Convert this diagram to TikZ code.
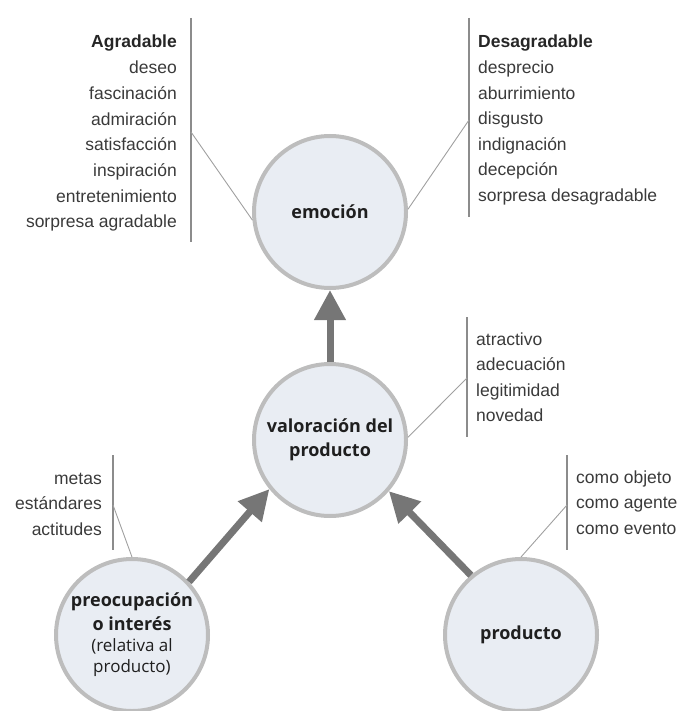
\documentclass[tikz,border=0pt]{standalone}
\usepackage{fontspec}
\setmainfont{Liberation Sans}
\newfontfamily\circfont{Open Sans}
\newcommand\notefont{\mdseries\fontsize{17}{21}\selectfont}
\usetikzlibrary{arrows.meta}

\definecolor{ringgray}{HTML}{BDBDBD}
\definecolor{ringfill}{HTML}{E9EDF3}
\definecolor{listtext}{HTML}{3A3A3A}
\definecolor{rulegray}{HTML}{8C8C8C}
\definecolor{leadgray}{HTML}{A0A0A0}
\definecolor{flowgray}{HTML}{767676}

\tikzset{
  bubble/.style={circle, draw=ringgray, fill=ringfill, line width=4pt,
    minimum size=152pt, inner sep=0pt, align=center, text=black!88,
    font=\circfont\fontsize{18}{24}\selectfont\bfseries},
  itemR/.style={anchor=base east, inner sep=0pt, text=listtext,
    font=\fontsize{17.5}{21}\selectfont},
  itemL/.style={anchor=base west, inner sep=0pt, text=listtext,
    font=\fontsize{17.5}{21}\selectfont},
  listrule/.style={draw=rulegray, line width=1.3pt},
  leader/.style={draw=leadgray, line width=0.9pt},
  flow/.style={draw=flowgray, line width=7pt,
    -{Triangle[width=30pt,length=30pt]}}
}

\begin{document}
\begin{tikzpicture}[x=1pt, y=-1pt]
\useasboundingbox (0,0) rectangle (678,711);

% the four concepts
\node[bubble] (emo)  at (330,212) {emoción};
\node[bubble] (val)  at (330,440) {valoración del\\producto};
\node[bubble] (pre)  at (132,635) {preocupación\\o interés\\[-3pt]{\notefont(relativa al}\\[-3pt]{\notefont producto)}};
\node[bubble] (prod) at (521,635) {producto};

% flow between the concepts
\draw[flow] (val.north) -- (emo.south);
\draw[flow] (pre.43) -- (val.219);
\draw[flow] (prod.130) -- (val.319);

% pleasant emotions
\node[itemR, font=\fontsize{17.5}{21}\selectfont\bfseries, text=black!85] (ag0) at (177,48) {Agradable};
\foreach \t [count=\i] in {deseo, fascinación, admiración, satisfacción,
    inspiración, entretenimiento, sorpresa agradable}
  \node[itemR] (ag\i) at (177,48+25.7*\i) {\t};
\coordinate (agTop) at (191,18);
\coordinate (agBot) at (191,242);
\coordinate (agTap) at (191,132);
\draw[listrule] (agTop) -- (agBot);
\draw[leader] (agTap) -- (emo.186);

% unpleasant emotions
\node[itemL, font=\fontsize{17.5}{21}\selectfont\bfseries, text=black!85] (de0) at (478,48) {Desagradable};
\foreach \t [count=\i] in {desprecio, aburrimiento, disgusto, indignación,
    decepción, sorpresa desagradable}
  \node[itemL] (de\i) at (478,48+25.55*\i) {\t};
\coordinate (deTop) at (469,18);
\coordinate (deBot) at (469,217);
\coordinate (deTap) at (469,120);
\draw[listrule] (deTop) -- (deBot);
\draw[leader] (deTap) -- (emo.2);

% appraisal criteria
\foreach \t [count=\i from 0] in {atractivo, adecuación, legitimidad, novedad}
  \node[itemL] (va\i) at (476,345+25.6*\i) {\t};
\coordinate (vaTop) at (467,317);
\coordinate (vaBot) at (467,437);
\coordinate (vaTap) at (467,378);
\draw[listrule] (vaTop) -- (vaBot);
\draw[leader] (vaTap) -- (val.2);

% concerns
\foreach \t [count=\i from 0] in {metas, estándares, actitudes}
  \node[itemR] (pr\i) at (102,484+25.5*\i) {\t};
\coordinate (prTop) at (113,455);
\coordinate (prBot) at (113,550);
\coordinate (prTap) at (113,505);
\draw[listrule] (prTop) -- (prBot);
\draw[leader] (prTap) -- (pre.north);

% product roles
\foreach \t [count=\i from 0] in {como objeto, como agente, como evento}
  \node[itemL] (po\i) at (576,483+25.5*\i) {\t};
\coordinate (poTop) at (567,455);
\coordinate (poBot) at (567,550);
\coordinate (poTap) at (567,505);
\draw[listrule] (poTop) -- (poBot);
\draw[leader] (poTap) -- (prod.north);
\end{tikzpicture}
\end{document}
